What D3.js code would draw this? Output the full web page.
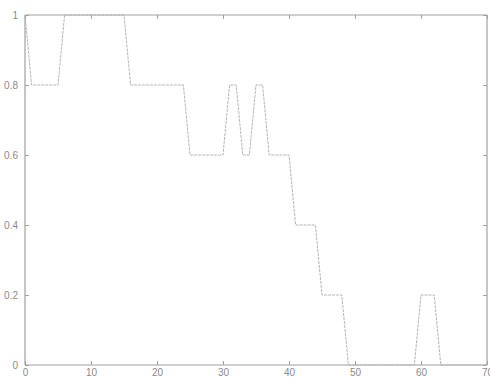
<!DOCTYPE html>
<html>
<head>
<meta charset="utf-8">
<script src="https://cdn.jsdelivr.net/npm/d3@7"></script>
<style>
  body { margin: 0; background: #fff; }
  svg { display: block; }
  .tick text { fill: #8a8a8a; font-family: "Liberation Sans", Arial, sans-serif; font-size: 10px; }
</style>
</head>
<body>
<div id="chart"></div>
<script>
// values, one per integer x
var xValues = d3.range(0, 71);
var yValues = [
  1, 0.8, 0.8, 0.8, 0.8, 0.8, 1, 1, 1, 1,
  1, 1, 1, 1, 1, 1, 0.8, 0.8, 0.8, 0.8,
  0.8, 0.8, 0.8, 0.8, 0.8, 0.6, 0.6, 0.6, 0.6, 0.6,
  0.6, 0.8, 0.8, 0.6, 0.6, 0.8, 0.8, 0.6, 0.6, 0.6,
  0.6, 0.4, 0.4, 0.4, 0.4, 0.2, 0.2, 0.2, 0.2, 0,
  0, 0, 0, 0, 0, 0, 0, 0, 0, 0,
  0.2, 0.2, 0.2, 0, 0, 0, 0, 0, 0, 0,
  0
];
var xTicks = [0, 10, 20, 30, 40, 50, 60, 70];
var yTicks = [0, 0.2, 0.4, 0.6, 0.8, 1];

var width = 490, height = 377;
var margin = {top: 15, right: 3, bottom: 12, left: 25};

var svg = d3.select("#chart").append("svg")
  .attr("width", width)
  .attr("height", height);

var x = d3.scaleLinear().domain([0, 70]).range([margin.left, width - margin.right]);
var y = d3.scaleLinear().domain([0, 1]).range([height - margin.bottom, margin.top]);

var axisColor = "#a0a0a0";

// frame with inward ticks on all four sides
var axBottom = svg.append("g")
  .attr("transform", "translate(0," + y(0) + ")")
  .call(d3.axisBottom(x).tickValues(xTicks).tickSize(-4).tickPadding(4).tickFormat(d3.format("d")));
var axTop = svg.append("g")
  .attr("transform", "translate(0," + y(1) + ")")
  .call(d3.axisTop(x).tickValues(xTicks).tickSize(-4).tickFormat(""));
var axLeft = svg.append("g")
  .attr("transform", "translate(" + x(0) + ",0)")
  .call(d3.axisLeft(y).tickValues(yTicks).tickSize(-4).tickPadding(7).tickFormat(function(d) { return d3.format("")(d); }));
var axRight = svg.append("g")
  .attr("transform", "translate(" + x(70) + ",0)")
  .call(d3.axisRight(y).tickValues(yTicks).tickSize(-4).tickFormat(""));

svg.selectAll(".domain").attr("stroke", axisColor).attr("stroke-width", 1.2);
svg.selectAll(".tick line").attr("stroke", axisColor);
axBottom.select(".domain").attr("d", "M" + x(0) + ",0H" + x(70));
axTop.select(".domain").attr("d", "M" + x(0) + ",0H" + x(70));
axLeft.select(".domain").attr("d", "M0," + y(0) + "V" + y(1));
axRight.select(".domain").attr("d", "M0," + y(0) + "V" + y(1));

var line = d3.line()
  .x(function(d, i) { return x(xValues[i]); })
  .y(function(d) { return y(d); });

svg.append("path")
  .datum(yValues)
  .attr("fill", "none")
  .attr("stroke", "#b4b4b4")
  .attr("stroke-width", 1)
  .attr("stroke-dasharray", "3,1")
  .attr("d", line);
</script>
</body>
</html>
